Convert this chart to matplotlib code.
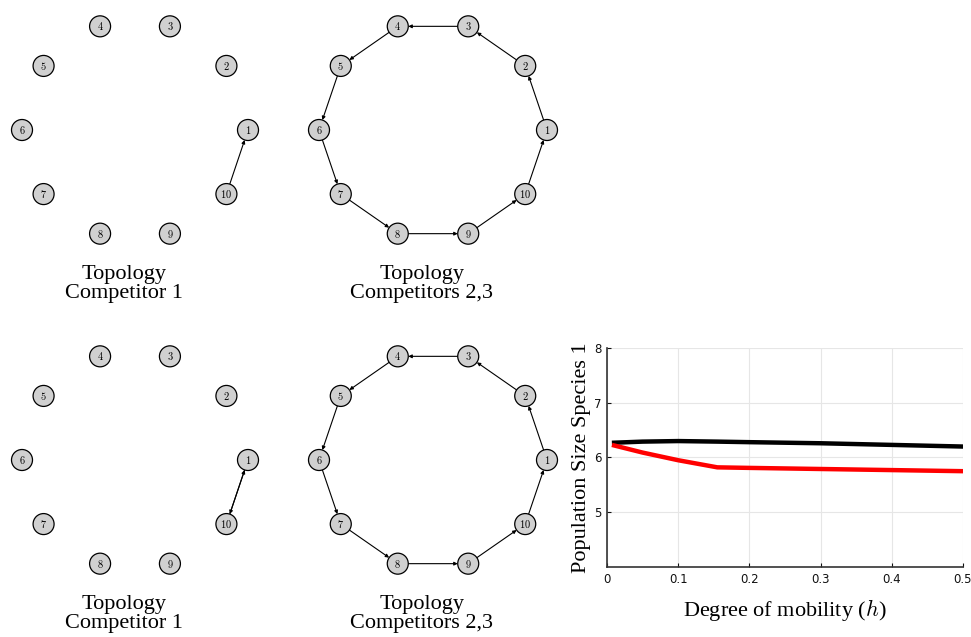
import numpy as np
import matplotlib
matplotlib.use("Agg")
import matplotlib.pyplot as plt
from matplotlib.patches import Circle

plt.rcParams['mathtext.fontset'] = 'cm'

# network data
nodes = list(range(1, 11))
cycle_edges = [(1, 2), (2, 3), (3, 4), (4, 5), (5, 6), (6, 7), (7, 8), (8, 9), (9, 10), (10, 1)]
edges_top_left = [(10, 1)]
edges_bottom_left = [(10, 1), (1, 10)]

# curve data
h = [0.01, 0.05, 0.1, 0.155, 0.2, 0.3, 0.4, 0.5]
pop_black = [6.27, 6.29, 6.30, 6.29, 6.28, 6.26, 6.23, 6.20]
pop_red = [6.22, 6.09, 5.95, 5.82, 5.81, 5.79, 5.77, 5.75]

W, H = 971, 637
fig = plt.figure(figsize=(W / 100, H / 100), dpi=100)

# canvas in pixel coords for the graphs
canvas = fig.add_axes([0, 0, 1, 1])
canvas.set_xlim(0, W)
canvas.set_ylim(H, 0)
canvas.axis('off')

R_NODE = 10.5


def draw_graph(cx, cy, rx, ry, edges, title):
    pos = {}
    for k in nodes:
        a = np.deg2rad((k - 1) * 36)
        pos[k] = (cx + rx * np.cos(a), cy - ry * np.sin(a))
    for s, t in edges:
        x0, y0 = pos[s]
        x1, y1 = pos[t]
        d = np.hypot(x1 - x0, y1 - y0)
        ux, uy = (x1 - x0) / d, (y1 - y0) / d
        canvas.annotate('', xy=(x1 - ux * R_NODE, y1 - uy * R_NODE),
                        xytext=(x0 + ux * R_NODE, y0 + uy * R_NODE),
                        arrowprops=dict(arrowstyle='-|>', lw=0.8, color='black',
                                        mutation_scale=5, shrinkA=0, shrinkB=0))
    for k in nodes:
        x, y = pos[k]
        canvas.add_patch(Circle((x, y), R_NODE, facecolor='#d0d0d0',
                                edgecolor='black', lw=0.9, zorder=3))
        canvas.text(x, y, f'${k}$', ha='center', va='center', fontsize=7.5, zorder=4)
    canvas.text(cx - 11, cy + 154, title, ha='center', va='center', fontsize=16,
                family='Liberation Serif', linespacing=0.95)


draw_graph(135, 130, 113, 109, edges_top_left, 'Topology\nCompetitor 1')
draw_graph(433, 130, 114, 109, cycle_edges, 'Topology\nCompetitors 2,3')
draw_graph(135, 460, 113, 109, edges_bottom_left, 'Topology\nCompetitor 1')
draw_graph(433, 460, 114, 109, cycle_edges, 'Topology\nCompetitors 2,3')

# line chart
ax = fig.add_axes([0.6251, 0.1099, 0.3666, 0.3438])
ax.plot(h, pop_black, color='black', lw=3.2)
ax.plot(h, pop_red, color='#ff0000', lw=3.2)
ax.set_xlim(0, 0.5)
ax.set_ylim(4.0, 8)
ax.set_xticks([0, 0.1, 0.2, 0.3, 0.4, 0.5])
ax.set_xticklabels(['0', '0.1', '0.2', '0.3', '0.4', '0.5'])
ax.set_yticks([5, 6, 7, 8])
ax.grid(True, color='#e6e6e6', lw=0.8)
ax.set_axisbelow(True)
ax.tick_params(direction='in', length=3, labelsize=8.5, colors='#111111', pad=4)
for side in ['top', 'right']:
    ax.spines[side].set_visible(False)
for side in ['left', 'bottom']:
    ax.spines[side].set_color('#333333')
    ax.spines[side].set_linewidth(1.2)
ax.set_ylabel('Population Size Species 1', fontsize=16, family='Liberation Serif', labelpad=2)
ax.set_xlabel('Degree of mobility ($\\mathit{h}$)', fontsize=16, family='Liberation Serif', labelpad=8)

fig.savefig('out.png', dpi=100)
